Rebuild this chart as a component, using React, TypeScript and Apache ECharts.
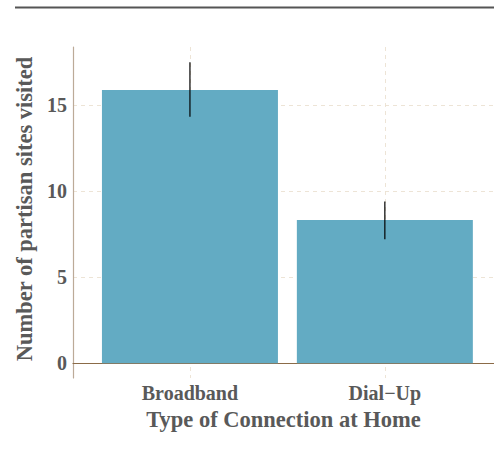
import React, { useEffect, useRef } from "react";
import * as echarts from "echarts";

const categories = ["Broadband", "Dial\u2212Up"];
const positions = [1, 2];
const means = [15.89, 8.33];
const lower = [14.34, 7.21];
const upper = [17.5, 9.4];
const yTicks = [0, 5, 10, 15];

const FONT = "Liberation Serif";
const TEXT = "#595959";

export default function App() {
  const ref = useRef<HTMLDivElement>(null);
  useEffect(() => {
    const chart = echarts.init(ref.current!, null, { renderer: "svg" });
    const grid = "rgba(235,225,210,0.9)";
    chart.setOption({
      animation: false,
      backgroundColor: "#ffffff",
      textStyle: { fontFamily: FONT },
      graphic: [
        {
          type: "line",
          shape: { x1: 15, y1: 7.5, x2: 494, y2: 7.5 },
          style: { stroke: "#555555", lineWidth: 2 },
        },
      ],
      grid: { left: 73, right: 0, top: 47, bottom: 72 },
      xAxis: {
        type: "value",
        min: 0.4,
        max: 2.56,
        name: "Type of Connection at Home",
        nameLocation: "middle",
        nameGap: 23,
        nameTextStyle: { fontFamily: FONT, fontWeight: "bold", fontSize: 22.5, color: TEXT },
        axisLine: { show: true, lineStyle: { color: "#8b6b48", width: 1.2 } },
        axisTick: { show: false, customValues: positions },
        axisLabel: {
          customValues: positions,
          formatter: (v: number) => categories[positions.indexOf(Math.round(v))] ?? "",
          fontFamily: FONT,
          fontWeight: "bold",
          fontSize: 20,
          color: TEXT,
          margin: 5,
        },
        splitLine: { show: true, lineStyle: { color: grid, type: [4, 4], width: 1 } },
      },
      yAxis: {
        type: "value",
        min: -0.855,
        max: 18.39,
        name: "Number of partisan sites visited",
        nameLocation: "middle",
        nameGap: 37,
        nameTextStyle: {
          fontFamily: FONT,
          fontWeight: "bold",
          fontSize: 22.5,
          color: TEXT,
          padding: [0, 0, 0, 7],
        },
        axisLine: { show: true, lineStyle: { color: "#bcaa98", width: 1.2 } },
        axisTick: { show: false, customValues: yTicks },
        axisLabel: {
          customValues: yTicks,
          fontFamily: FONT,
          fontWeight: "bold",
          fontSize: 20,
          color: TEXT,
          margin: 6,
        },
        splitLine: { show: true, lineStyle: { color: grid, type: [4, 4], width: 1 } },
      },
      series: [
        {
          type: "bar",
          data: positions.map((p, i) => [p, means[i]]),
          barWidth: 176,
          itemStyle: { color: "#63abc3" },
        },
        {
          type: "custom",
          data: positions.map((p, i) => [p, lower[i], upper[i]]),
          renderItem: (params: any, api: any) => {
            const a = api.coord([api.value(0), api.value(1)]);
            const b = api.coord([api.value(0), api.value(2)]);
            return {
              type: "line",
              shape: { x1: a[0], y1: a[1], x2: b[0], y2: b[1] },
              style: { stroke: "#000000", lineWidth: 1.2 },
            };
          },
          z: 5,
        },
      ],
    });
    return () => chart.dispose();
  }, []);
  return <div ref={ref} style={{ width: 494, height: 450, position: "absolute", left: 0, top: 0 }} />;
}
